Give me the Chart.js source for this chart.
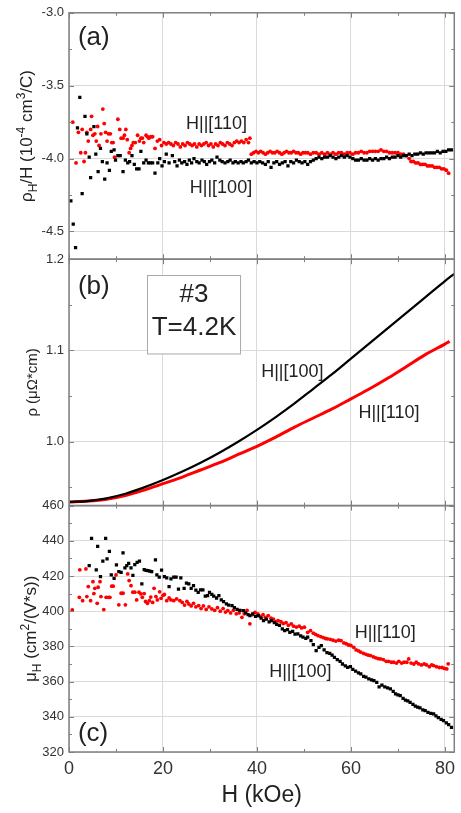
<!DOCTYPE html>
<html>
<head>
<meta charset="utf-8">
<title>Hall coefficient, resistivity and Hall mobility vs field</title>
<script src="https://cdn.jsdelivr.net/npm/chart.js@4.4.1/dist/chart.umd.min.js"></script>
<style>
	html, body { margin: 0; padding: 0; background: #fff; }
	#chart { display: block; }
</style>
</head>
<body>
<canvas id="chart" width="461" height="813"></canvas>
<script>
/*
|--------------------------------------------------------------------------
| Data
|--------------------------------------------------------------------------
*/

// (a) rho_H / H, 10^-4 cm^3/C
var A100_H = [0.4, 0.9, 1.4, 1.8, 2.3, 2.8, 3.4, 3.8, 4.3, 4.6, 5.3, 5.7, 6.2, 6.7, 7.1, 7.6, 8.1, 8.6, 9.0, 9.6, 9.9, 10.4, 10.9, 11.5, 12.0, 12.5, 12.9, 13.4, 13.9, 14.4, 14.9, 15.3, 15.9, 16.4, 16.9, 17.3, 17.8, 18.3, 18.9, 19.3, 19.8, 20.3, 20.7, 21.3, 22.0, 22.5, 23.0, 23.5, 24.0, 24.6, 25.1, 25.6, 26.1, 26.6, 27.2, 27.7, 28.3, 28.8, 29.3, 29.9, 30.4, 31.0, 31.5, 32.1, 32.6, 33.2, 33.8, 34.3, 34.9, 35.4, 36.0, 36.6, 37.1, 37.7, 38.2, 38.8, 39.4, 40.0, 40.6, 41.2, 41.8, 42.4, 43.0, 43.6, 44.2, 44.8, 45.4, 46.0, 46.6, 47.2, 47.8, 48.4, 49.0, 49.6, 50.2, 50.8, 51.4, 52.0, 52.6, 53.2, 53.8, 54.4, 55.0, 55.6, 56.2, 56.8, 57.4, 58.0, 58.6, 59.2, 59.8, 60.4, 61.0, 61.6, 62.2, 62.8, 63.4, 64.0, 64.6, 65.2, 65.8, 66.4, 67.0, 67.6, 68.2, 68.8, 69.4, 70.0, 70.6, 71.2, 71.8, 72.4, 73.0, 73.6, 74.2, 74.8, 75.4, 76.0, 76.6, 77.2, 77.8, 78.4, 79.0, 79.6, 80.2, 80.8, 81.4];
var A100_V = [-4.29, -4.45, -4.61, -3.79, -3.58, -4.24, -3.71, -3.83, -3.99, -4.13, -3.78, -3.97, -4.09, -3.93, -4.02, -4.14, -4.03, -4.08, -3.95, -3.94, -4.01, -3.98, -3.98, -4.09, -4.01, -4.03, -4.02, -3.98, -4.04, -4.07, -4.07, -3.95, -4.03, -4.01, -4.03, -4.03, -4.03, -4.10, -4.03, -4.00, -4.05, -4.02, -3.97, -4.03, -3.98, -4.02, -4.05, -4.01, -4.03, -4.02, -4.04, -4.01, -4.03, -4.00, -4.02, -4.03, -4.01, -4.02, -4.04, -4.02, -4.01, -4.03, -3.99, -4.01, -4.02, -4.03, -4.02, -4.01, -4.03, -4.02, -4.03, -4.02, -4.03, -4.02, -4.01, -4.03, -4.02, -4.03, -4.02, -4.03, -4.04, -4.02, -4.06, -4.03, -4.02, -4.04, -4.03, -4.02, -4.05, -4.02, -4.03, -4.01, -4.02, -4.03, -4.02, -4.04, -4.02, -4.01, -4.00, -3.99, -4.00, -3.99, -3.99, -3.98, -3.99, -4.00, -3.99, -3.98, -3.99, -3.98, -3.99, -4.00, -4.01, -4.01, -4.00, -4.01, -4.01, -4.00, -4.01, -4.00, -4.01, -4.00, -4.00, -3.99, -4.00, -3.99, -3.99, -3.98, -3.99, -3.98, -3.98, -3.97, -3.98, -3.97, -3.97, -3.96, -3.97, -3.96, -3.96, -3.96, -3.96, -3.95, -3.96, -3.95, -3.95, -3.94, -3.94];

var A110_H = [0.8, 1.5, 2.0, 2.5, 2.8, 3.2, 3.5, 3.8, 4.1, 4.6, 4.8, 5.1, 5.5, 5.8, 6.1, 6.4, 6.8, 7.2, 7.5, 7.8, 8.1, 8.4, 8.8, 9.1, 9.4, 9.7, 10.4, 10.8, 11.1, 11.5, 11.8, 12.1, 12.4, 12.8, 13.1, 13.4, 13.7, 14.1, 14.6, 15.0, 15.3, 15.6, 15.9, 16.4, 16.7, 17.0, 17.4, 17.8, 18.3, 18.8, 19.3, 19.7, 20.2, 20.7, 21.2, 21.7, 22.2, 22.7, 23.2, 23.7, 24.2, 24.7, 25.2, 25.7, 26.2, 26.7, 27.2, 27.7, 28.2, 28.7, 29.2, 29.7, 30.2, 30.7, 31.2, 31.7, 32.2, 32.7, 33.2, 33.7, 34.2, 34.7, 35.2, 35.7, 36.2, 36.7, 37.2, 37.7, 38.2, 38.5, 38.8, 39.3, 39.8, 40.3, 40.8, 41.3, 41.8, 42.3, 42.8, 43.3, 43.8, 44.3, 44.8, 45.3, 45.8, 46.3, 46.8, 47.3, 47.8, 48.3, 48.8, 49.3, 49.8, 50.3, 50.8, 51.4, 52.0, 52.6, 53.2, 53.8, 54.4, 55.0, 55.6, 56.2, 56.8, 57.4, 58.0, 58.6, 59.2, 59.8, 60.4, 61.0, 61.6, 62.2, 62.8, 63.4, 64.0, 64.6, 65.2, 65.8, 66.4, 67.0, 67.6, 68.2, 68.8, 69.4, 70.0, 70.6, 71.2, 71.8, 72.4, 72.8, 73.3, 73.8, 74.3, 74.8, 75.3, 75.8, 76.3, 76.8, 77.3, 77.8, 78.3, 78.8, 79.3, 79.8, 80.3, 80.8];
var A110_V = [-3.75, -4.03, -3.82, -3.96, -3.80, -4.02, -3.96, -3.82, -3.88, -3.80, -3.71, -3.84, -3.83, -3.88, -3.78, -3.91, -3.83, -3.66, -3.76, -3.82, -3.88, -3.83, -3.83, -3.89, -3.89, -3.99, -3.73, -3.80, -3.86, -3.86, -3.84, -3.80, -3.87, -3.96, -3.93, -3.91, -3.89, -3.89, -3.84, -3.88, -3.86, -3.86, -3.89, -3.84, -3.85, -3.86, -3.85, -3.85, -3.93, -3.88, -3.87, -3.91, -3.89, -3.90, -3.89, -3.90, -3.91, -3.89, -3.90, -3.92, -3.90, -3.91, -3.89, -3.90, -3.91, -3.90, -3.92, -3.90, -3.91, -3.90, -3.89, -3.91, -3.90, -3.92, -3.90, -3.91, -3.89, -3.90, -3.91, -3.89, -3.90, -3.91, -3.89, -3.88, -3.89, -3.88, -3.89, -3.87, -3.89, -3.86, -3.97, -3.96, -3.95, -3.96, -3.95, -3.96, -3.97, -3.96, -3.95, -3.96, -3.96, -3.95, -3.96, -3.97, -3.96, -3.95, -3.96, -3.96, -3.95, -3.96, -3.96, -3.97, -3.96, -3.96, -3.96, -3.97, -3.96, -3.96, -3.97, -3.96, -3.97, -3.96, -3.97, -3.96, -3.97, -3.96, -3.96, -3.97, -3.96, -3.96, -3.97, -3.96, -3.96, -3.95, -3.96, -3.96, -3.95, -3.95, -3.95, -3.95, -3.94, -3.95, -3.95, -3.96, -3.96, -3.96, -3.96, -3.97, -3.97, -3.98, -4.00, -4.02, -4.02, -4.03, -4.03, -4.04, -4.04, -4.04, -4.05, -4.05, -4.05, -4.06, -4.06, -4.06, -4.07, -4.07, -4.08, -4.10];

// (b) rho, micro-ohm cm
var B100_H = [0, 4, 8, 12, 16, 20, 24, 28, 32, 36, 40, 44, 48, 52, 56, 60, 64, 68, 72, 76, 80, 82];
var B100_V = [0.934, 0.935, 0.938, 0.943, 0.950, 0.958, 0.967, 0.977, 0.988, 1.000, 1.013, 1.027, 1.042, 1.058, 1.074, 1.091, 1.108, 1.125, 1.142, 1.159, 1.176, 1.184];
var B110_H = [0, 4, 8, 12, 16, 20, 24, 28, 32, 36, 40, 44, 48, 52, 56, 60, 64, 68, 72, 76, 80, 81];
var B110_V = [0.934, 0.935, 0.937, 0.941, 0.947, 0.954, 0.961, 0.969, 0.977, 0.986, 0.995, 1.005, 1.016, 1.026, 1.036, 1.047, 1.058, 1.070, 1.083, 1.096, 1.107, 1.110];

// (c) mu_H, cm^2/(V s)
var C100_H = [4.3, 4.8, 5.8, 6.1, 6.7, 7.2, 7.8, 8.1, 8.6, 9.0, 9.6, 10.1, 10.6, 11.1, 11.5, 11.9, 12.3, 12.7, 13.2, 13.6, 14.0, 14.5, 15.0, 15.5, 16.0, 16.4, 16.8, 17.2, 17.6, 18.4, 18.7, 19.2, 19.7, 20.3, 20.8, 21.3, 21.7, 22.3, 22.8, 23.3, 23.8, 24.5, 25.0, 25.5, 26.0, 26.5, 27.0, 27.5, 28.0, 28.5, 29.0, 29.5, 29.9, 30.4, 30.8, 31.4, 31.9, 32.4, 32.9, 33.5, 34.0, 34.7, 35.2, 35.8, 36.4, 37.1, 37.6, 38.1, 38.5, 39.1, 39.7, 40.3, 40.9, 41.4, 42.0, 42.6, 43.1, 43.7, 44.2, 44.8, 45.4, 45.9, 46.5, 47.0, 47.6, 48.1, 48.7, 49.3, 49.8, 50.4, 50.8, 51.5, 52.0, 52.6, 53.2, 53.7, 54.3, 54.9, 55.5, 56.0, 56.5, 57.1, 57.7, 58.2, 58.8, 59.3, 59.9, 60.4, 61.0, 61.6, 62.1, 62.7, 63.2, 63.8, 64.4, 64.9, 65.5, 66.0, 66.6, 67.2, 67.8, 68.4, 69.0, 69.5, 70.0, 70.5, 71.1, 71.6, 72.1, 72.6, 73.2, 73.7, 74.2, 74.7, 75.3, 75.8, 76.4, 77.0, 77.6, 78.1, 78.6, 79.2, 79.7, 80.3, 80.8, 81.4];
var C100_V = [425.9, 441.4, 423.5, 436.9, 419.7, 428.4, 441.4, 429.7, 434.0, 420.6, 418.7, 426.3, 422.5, 422.0, 433.1, 424.6, 425.9, 427.2, 424.6, 420.4, 426.4, 427.8, 428.4, 415.5, 423.6, 423.2, 423.0, 422.8, 422.5, 429.1, 420.6, 419.3, 423.3, 419.7, 419.0, 414.0, 418.3, 419.3, 419.3, 412.6, 419.0, 413.0, 416.0, 415.5, 413.0, 414.5, 412.0, 410.7, 412.1, 412.1, 408.5, 408.9, 410.7, 409.5, 408.5, 407.5, 408.9, 406.5, 405.5, 404.2, 403.5, 403.2, 402.0, 401.0, 400.5, 400.3, 399.0, 398.0, 397.5, 398.5, 397.0, 397.5, 396.0, 394.7, 395.5, 394.0, 394.7, 393.5, 392.5, 392.0, 390.0, 389.0, 389.5, 388.0, 388.5, 387.0, 387.1, 386.0, 385.2, 384.5, 385.2, 383.3, 381.0, 377.6, 379.5, 380.5, 378.0, 376.5, 376.0, 375.0, 373.8, 372.5, 371.5, 370.0, 369.0, 368.1, 368.5, 367.0, 366.0, 365.0, 364.4, 363.0, 362.5, 361.5, 361.0, 360.6, 359.5, 357.0, 358.0, 357.0, 356.5, 355.9, 354.5, 353.0, 352.5, 352.0, 350.5, 349.5, 349.0, 348.2, 347.0, 346.0, 345.5, 345.1, 344.0, 343.5, 342.5, 342.0, 341.6, 340.5, 339.5, 338.5, 337.8, 336.5, 335.5, 334.0];

var C110_H = [0.7, 2.2, 2.3, 2.9, 3.6, 3.8, 4.1, 4.6, 5.1, 5.3, 5.5, 6.0, 6.2, 6.6, 6.8, 7.4, 7.9, 8.4, 8.7, 9.1, 9.4, 10.0, 10.6, 11.1, 11.5, 12.0, 12.5, 12.8, 13.2, 13.6, 14.0, 14.4, 14.9, 15.3, 15.6, 16.0, 16.3, 16.7, 17.1, 17.4, 17.8, 18.1, 18.5, 18.8, 19.3, 19.6, 20.0, 20.3, 20.8, 21.3, 21.7, 22.3, 22.9, 23.6, 24.1, 24.6, 25.1, 25.5, 26.0, 26.5, 27.0, 27.6, 28.1, 28.6, 29.2, 29.8, 30.4, 31.0, 31.6, 32.2, 32.8, 33.3, 33.8, 34.4, 35.0, 35.6, 36.2, 36.8, 37.3, 37.9, 38.5, 39.0, 39.6, 40.2, 40.7, 41.3, 41.8, 42.4, 43.0, 43.5, 44.0, 44.5, 45.1, 45.6, 46.2, 46.7, 47.3, 47.8, 48.4, 49.0, 49.5, 50.1, 50.8, 51.4, 52.0, 52.5, 53.0, 53.6, 54.1, 54.6, 55.0, 55.6, 56.2, 56.8, 57.4, 57.9, 58.5, 59.0, 59.5, 60.0, 60.6, 61.1, 61.6, 62.1, 62.7, 63.2, 63.7, 64.2, 64.8, 65.3, 65.8, 66.3, 66.9, 67.5, 68.0, 68.6, 69.1, 69.7, 70.2, 70.8, 71.3, 71.9, 72.3, 72.8, 73.4, 73.9, 74.4, 75.0, 75.6, 76.1, 76.7, 77.2, 77.6, 78.2, 78.8, 79.4, 79.9, 80.4, 80.7];
var C110_V = [400.7, 407.9, 423.5, 406.0, 424.0, 408.3, 414.0, 406.0, 416.8, 410.0, 413.0, 404.5, 413.6, 416.8, 408.3, 400.9, 407.9, 407.9, 407.9, 414.2, 414.2, 420.6, 403.6, 410.2, 410.2, 403.6, 421.2, 417.4, 414.5, 410.8, 410.8, 406.4, 410.8, 409.8, 407.9, 410.0, 405.5, 404.5, 406.0, 408.0, 405.0, 413.0, 408.3, 406.4, 411.0, 407.3, 409.0, 409.5, 406.0, 407.5, 406.4, 406.0, 407.0, 406.0, 405.0, 403.5, 405.5, 404.1, 403.0, 404.5, 402.5, 403.2, 401.5, 403.0, 401.0, 402.5, 401.3, 400.5, 402.0, 400.0, 401.5, 399.5, 400.3, 399.0, 400.5, 398.5, 399.0, 396.5, 398.5, 400.5, 392.8, 398.0, 399.3, 398.5, 397.0, 398.0, 396.5, 397.5, 396.0, 395.5, 394.0, 394.7, 394.0, 393.0, 393.5, 392.0, 392.8, 391.5, 391.0, 391.5, 390.5, 390.9, 388.0, 389.0, 387.5, 386.8, 386.1, 385.5, 385.0, 384.5, 384.3, 384.0, 383.5, 383.0, 383.5, 383.3, 382.0, 381.5, 380.8, 380.5, 379.5, 378.0, 377.5, 376.7, 376.0, 375.5, 375.0, 374.8, 374.0, 373.5, 373.0, 372.9, 372.5, 371.5, 371.5, 371.0, 371.0, 370.5, 371.5, 370.5, 371.0, 371.0, 372.9, 370.5, 370.0, 371.0, 370.1, 369.5, 370.0, 369.5, 368.5, 369.5, 369.1, 368.5, 368.0, 368.0, 367.5, 367.2, 370.1];

// Axis ranges and ticks
var X_RANGE = [0, 82];
var X_STEP  = 20;
var A_RANGE = [-4.69, -3.0];
var A_STEP  = 0.5;
var B_RANGE = [0.93, 1.2];
var B_STEP  = 0.1;
var C_RANGE = [320, 460];
var C_STEP  = 20;

/*
|--------------------------------------------------------------------------
| Styling
|--------------------------------------------------------------------------
*/

var FONT  = "'Liberation Sans', Arial, sans-serif";
var RED   = '#ff0000';
var BLACK = '#000000';
var GRID  = '#dadada';
var FRAME = '#808080';
var TEXT  = '#333333';

function pairs(xs, ys) {
	return xs.map(function (x, i) { return { x: x, y: ys[i] }; });
}

function fixed1(v) { return v.toFixed(1); }
function plain(v) { return String(Math.round(v)); }

function yAxis(range, step, weight, fmt) {
	return {
		type: 'linear',
		position: 'left',
		stack: 'panels',
		stackWeight: 1,
		weight: weight,
		min: range[0],
		max: range[1],
		border: { display: false },
		grid: { color: GRID, lineWidth: 1, drawTicks: false },
		ticks: {
			stepSize: step,
			includeBounds: false,
			padding: 5,
			color: TEXT,
			font: { family: FONT, size: 13 },
			callback: fmt,
		},
		afterFit: function (scale) { scale.width = 69; },
	};
}

function scatterSet(label, xs, ys, axis, color, style, radius) {
	return {
		label: label,
		data: pairs(xs, ys),
		yAxisID: axis,
		pointStyle: style,
		pointRadius: radius,
		pointBackgroundColor: color,
		pointBorderWidth: 0,
		showLine: false,
	};
}

function lineSet(label, xs, ys, axis, color, width) {
	return {
		label: label,
		data: pairs(xs, ys),
		yAxisID: axis,
		showLine: true,
		borderColor: color,
		borderWidth: width,
		pointRadius: 0,
		cubicInterpolationMode: 'monotone',
	};
}

/*
|--------------------------------------------------------------------------
| Decorations: frames, inward ticks, rich axis titles, labels
|--------------------------------------------------------------------------
*/

var PANELS = [
	{ id: 'yA', step: A_STEP, tag: '(a)', tagAt: [1.9, -3.17],
	  title: [{ t: 'ρ' }, { t: 'H', sub: true }, { t: '/H (10' }, { t: '-4', sup: true }, { t: ' cm' }, { t: '3', sup: true }, { t: '/C)' }],
	  titleSize: 17, titleX: 32,
	  notes: [{ t: 'H||[110]', at: [24.9, -3.76] }, { t: 'H||[100]', at: [25.7, -4.20] }] },
	{ id: 'yB', step: B_STEP, tag: '(b)', tagAt: [1.9, 1.17],
	  title: [{ t: 'ρ (μΩ*cm)' }],
	  titleSize: 15, titleX: 37,
	  notes: [{ t: 'H||[100]', at: [40.9, 1.076] }, { t: 'H||[110]', at: [61.6, 1.031] }] },
	{ id: 'yC', step: C_STEP, tag: '(c)', tagAt: [1.9, 330.5],
	  title: [{ t: 'μ' }, { t: 'H', sub: true }, { t: ' (cm' }, { t: '2', sup: true }, { t: '/(V*s))' }],
	  titleSize: 17, titleX: 36,
	  notes: [{ t: 'H||[110]', at: [60.8, 387.8] }, { t: 'H||[100]', at: [42.6, 365.7] }] },
];

function drawRichVertical(ctx, parts, size, x, yCenter) {
	var small = Math.round(size * 0.68);
	var widths = parts.map(function (p) {
		ctx.font = (p.sub || p.sup ? small : size) + 'px ' + FONT;
		return ctx.measureText(p.t).width;
	});
	var total = widths.reduce(function (a, b) { return a + b; }, 0);

	ctx.save();
	ctx.translate(x, yCenter);
	ctx.rotate(-Math.PI / 2);
	ctx.textBaseline = 'alphabetic';
	ctx.textAlign = 'left';
	ctx.fillStyle = '#222';
	var pos = -total / 2;
	parts.forEach(function (p, i) {
		var dy = 0;
		if (p.sub) dy = size * 0.3;
		if (p.sup) dy = -size * 0.42;
		ctx.font = (p.sub || p.sup ? small : size) + 'px ' + FONT;
		ctx.fillText(p.t, pos, dy);
		pos += widths[i];
	});
	ctx.restore();
}

var decorPlugin = {
	id: 'panelDecor',
	afterDraw: function (chart) {
		var ctx  = chart.ctx;
		var area = chart.chartArea;
		var sx   = chart.scales.x;

		ctx.save();
		PANELS.forEach(function (p) {
			var s = chart.scales[p.id];
			var top = s.top, bottom = s.bottom;

			ctx.strokeStyle = FRAME;
			ctx.lineWidth = 1;

			// Inward y ticks on both sides.
			var half = p.step / 2;
			var v0 = Math.ceil(s.min / half - 1e-6) * half;
			for (var v = v0; v <= s.max + 1e-9; v += half) {
				var major = Math.abs(v / p.step - Math.round(v / p.step)) < 1e-6;
				var len = major ? 5 : 3;
				var py = Math.round(s.getPixelForValue(v)) + 0.5;
				ctx.beginPath();
				ctx.moveTo(area.left, py); ctx.lineTo(area.left + len, py);
				ctx.moveTo(area.right, py); ctx.lineTo(area.right - len, py);
				ctx.stroke();
			}

			// Inward x ticks on top and bottom of each panel.
			for (var h = 0; h <= sx.max; h += 10) {
				var lenX = (h % 20 === 0) ? 5 : 3;
				var px = Math.round(sx.getPixelForValue(h)) + 0.5;
				ctx.beginPath();
				ctx.moveTo(px, top); ctx.lineTo(px, top + lenX);
				ctx.moveTo(px, bottom); ctx.lineTo(px, bottom - lenX);
				ctx.stroke();
			}

			// Frame.
			ctx.lineWidth = 1.5;
			ctx.strokeRect(area.left, top, area.right - area.left, bottom - top);

			// Axis title.
			drawRichVertical(ctx, p.title, p.titleSize, p.titleX, (top + bottom) / 2);

			// Panel tag.
			ctx.fillStyle = '#222';
			ctx.textBaseline = 'middle';
			ctx.textAlign = 'left';
			ctx.font = '26px ' + FONT;
			ctx.fillText(p.tag, sx.getPixelForValue(p.tagAt[0]), s.getPixelForValue(p.tagAt[1]));

			// Curve notes.
			ctx.font = '18px ' + FONT;
			p.notes.forEach(function (n) {
				ctx.fillText(n.t, sx.getPixelForValue(n.at[0]), s.getPixelForValue(n.at[1]));
			});
		});

		// Sample box in panel (b).
		var sb = chart.scales.yB;
		var bx0 = sx.getPixelForValue(16.7), bx1 = sx.getPixelForValue(36.5);
		var by0 = sb.getPixelForValue(1.183), by1 = sb.getPixelForValue(1.097);
		ctx.fillStyle = '#fff';
		ctx.fillRect(bx0, by0, bx1 - bx0, by1 - by0);
		ctx.strokeStyle = '#aaaaaa';
		ctx.lineWidth = 1;
		ctx.strokeRect(Math.round(bx0) + 0.5, Math.round(by0) + 0.5, bx1 - bx0, by1 - by0);
		ctx.fillStyle = '#222';
		ctx.textAlign = 'center';
		ctx.textBaseline = 'middle';
		ctx.font = '26px ' + FONT;
		ctx.fillText('#3', (bx0 + bx1) / 2, sb.getPixelForValue(1.161));
		ctx.fillText('T=4.2K', (bx0 + bx1) / 2, sb.getPixelForValue(1.125));

		ctx.restore();
	},
};

/*
|--------------------------------------------------------------------------
| Chart
|--------------------------------------------------------------------------
*/

new Chart(document.getElementById('chart'), {
	type: 'scatter',
	data: {
		datasets: [
			scatterSet('H||[100]', A100_H, A100_V, 'yA', BLACK, 'rect', 2.3),
			scatterSet('H||[110]', A110_H, A110_V, 'yA', RED, 'circle', 1.9),
			lineSet('H||[100]', B100_H, B100_V, 'yB', BLACK, 2.2),
			lineSet('H||[110]', B110_H, B110_V, 'yB', RED, 3),
			scatterSet('H||[100]', C100_H, C100_V, 'yC', BLACK, 'rect', 2.3),
			scatterSet('H||[110]', C110_H, C110_V, 'yC', RED, 'circle', 1.9),
		],
	},
	options: {
		responsive: false,
		animation: false,
		devicePixelRatio: 1,
		layout: { padding: { left: 0, right: 3, top: 10, bottom: 0 } },
		plugins: {
			legend: { display: false },
			tooltip: { enabled: false },
		},
		scales: {
			x: {
				type: 'linear',
				position: 'bottom',
				min: X_RANGE[0],
				max: X_RANGE[1],
				border: { display: false },
				grid: { color: GRID, lineWidth: 1, drawTicks: false },
				ticks: {
					stepSize: X_STEP,
					includeBounds: false,
					padding: 6,
					color: TEXT,
					font: { family: FONT, size: 18 },
					callback: plain,
				},
				title: {
					display: true,
					text: 'H (kOe)',
					color: '#222',
					font: { family: FONT, size: 23 },
					padding: { top: 0, bottom: 4 },
				},
				afterFit: function (scale) { scale.height = 61; },
			},
			yC: yAxis(C_RANGE, C_STEP, 1, plain),
			yB: yAxis(B_RANGE, B_STEP, 2, fixed1),
			yA: yAxis(A_RANGE, A_STEP, 3, fixed1),
		},
	},
	plugins: [decorPlugin],
});
</script>
</body>
</html>
